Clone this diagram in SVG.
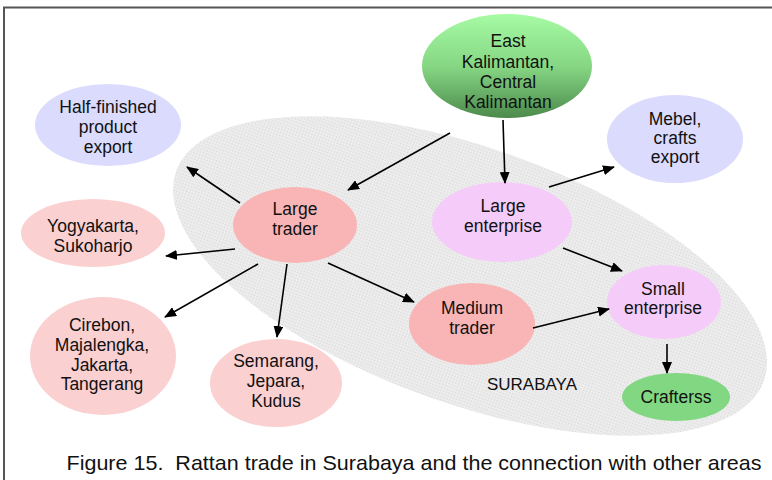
<svg xmlns="http://www.w3.org/2000/svg" width="772" height="480" viewBox="0 0 772 480">
  <defs>
    <!-- fine dotted texture for the Surabaya area -->
    <pattern id="dots" width="3" height="3" patternUnits="userSpaceOnUse">
      <rect width="3" height="3" fill="#ececec"/>
      <rect x="0" y="0" width="1" height="1" fill="#d4d4d4"/>
    </pattern>
    <linearGradient id="greenGrad" x1="0" y1="0" x2="0" y2="1">
      <stop offset="0" stop-color="#a6fba4"/>
      <stop offset="0.5" stop-color="#86d784"/>
      <stop offset="1" stop-color="#4c8a4c"/>
    </linearGradient>
    <marker id="arrow" viewBox="0 0 12 10" refX="11" refY="5" markerWidth="12" markerHeight="10" markerUnits="userSpaceOnUse" orient="auto">
      <path d="M0,0 L12,5 L0,10 Z" fill="#000"/>
    </marker>
    <style>
      text { font-family: "Liberation Sans", Arial, sans-serif; font-size: 17.5px; fill: #111; text-anchor: middle; }
      .conn line { stroke: #000; stroke-width: 1.6; marker-end: url(#arrow); }
      .export { fill: #dbdbfd; }
      .trader { fill: #f9b5b5; }
      .region { fill: #fbd0d0; }
      .enterprise { fill: #f5ccf9; }
      .crafter { fill: #82d782; }
    </style>
  </defs>

  <rect width="772" height="480" fill="#fff"/>
  <!-- frame -->
  <rect x="4" y="7.5" width="800" height="500" fill="none" stroke="#555" stroke-width="2"/>

  <!-- Surabaya area -->
  <g id="surabaya">
    <ellipse cx="470" cy="276" rx="312" ry="128" transform="rotate(19.6 470 276)" fill="url(#dots)"/>
    <text x="532" y="390" style="font-size:16.5px" textLength="90" lengthAdjust="spacingAndGlyphs">SURABAYA</text>
  </g>

  <g id="kalimantan">
    <ellipse cx="507" cy="66" rx="85" ry="52" fill="url(#greenGrad)"/>
    <text x="508" y="47">East</text>
    <text x="508" y="68">Kalimantan,</text>
    <text x="508" y="88">Central</text>
    <text x="508" y="108">Kalimantan</text>
  </g>

  <g id="half-finished">
    <ellipse class="export" cx="108" cy="125" rx="73" ry="41"/>
    <text x="108" y="113">Half-finished</text>
    <text x="108" y="133">product</text>
    <text x="108" y="153">export</text>
  </g>

  <g id="mebel">
    <ellipse class="export" cx="675" cy="139" rx="68" ry="44"/>
    <text x="675" y="125">Mebel,</text>
    <text x="675" y="144">crafts</text>
    <text x="675" y="163">export</text>
  </g>

  <g id="large-trader">
    <ellipse class="trader" cx="295" cy="225" rx="62" ry="38"/>
    <text x="295" y="215">Large</text>
    <text x="295" y="235">trader</text>
  </g>

  <g id="large-enterprise">
    <ellipse class="enterprise" cx="502" cy="222" rx="70" ry="40"/>
    <text x="503" y="212">Large</text>
    <text x="503" y="232">enterprise</text>
  </g>

  <g id="yogyakarta">
    <ellipse class="region" cx="93" cy="233" rx="72" ry="34"/>
    <text x="93" y="232">Yogyakarta,</text>
    <text x="93" y="252">Sukoharjo</text>
  </g>

  <g id="cirebon">
    <ellipse class="region" cx="103" cy="356" rx="73" ry="59"/>
    <text x="102" y="331">Cirebon,</text>
    <text x="102" y="351">Majalengka,</text>
    <text x="102" y="371">Jakarta,</text>
    <text x="102" y="390">Tangerang</text>
  </g>

  <g id="semarang">
    <ellipse class="region" cx="276" cy="383" rx="66" ry="44"/>
    <text x="276" y="367">Semarang,</text>
    <text x="276" y="387">Jepara,</text>
    <text x="276" y="407">Kudus</text>
  </g>

  <g id="medium-trader">
    <ellipse class="trader" cx="472" cy="324" rx="63" ry="41"/>
    <text x="472" y="314">Medium</text>
    <text x="472" y="334">trader</text>
  </g>

  <g id="small-enterprise">
    <ellipse class="enterprise" cx="664" cy="302" rx="57" ry="37"/>
    <text x="663" y="295">Small</text>
    <text x="663" y="314">enterprise</text>
  </g>

  <g id="crafterss">
    <ellipse class="crafter" cx="676" cy="397" rx="54" ry="24"/>
    <text x="676" y="403">Crafterss</text>
  </g>

  <!-- connectors -->
  <g id="connectors" class="conn">
    <line x1="450" y1="133" x2="348" y2="190"/>
    <line x1="503" y1="120" x2="505" y2="183"/>
    <line x1="240" y1="203" x2="187" y2="167"/>
    <line x1="235" y1="249" x2="166" y2="256"/>
    <line x1="258" y1="264" x2="165" y2="317"/>
    <line x1="287" y1="264" x2="277" y2="337"/>
    <line x1="328" y1="263" x2="414" y2="302"/>
    <line x1="549" y1="187" x2="614" y2="167"/>
    <line x1="563" y1="248" x2="622" y2="271"/>
    <line x1="533" y1="328" x2="609" y2="309"/>
    <line x1="667" y1="344" x2="667" y2="373"/>
  </g>

  <text x="414" y="470" style="font-size:21px" textLength="695" lengthAdjust="spacingAndGlyphs" xml:space="preserve">Figure 15.  Rattan trade in Surabaya and the connection with other areas</text>
</svg>
